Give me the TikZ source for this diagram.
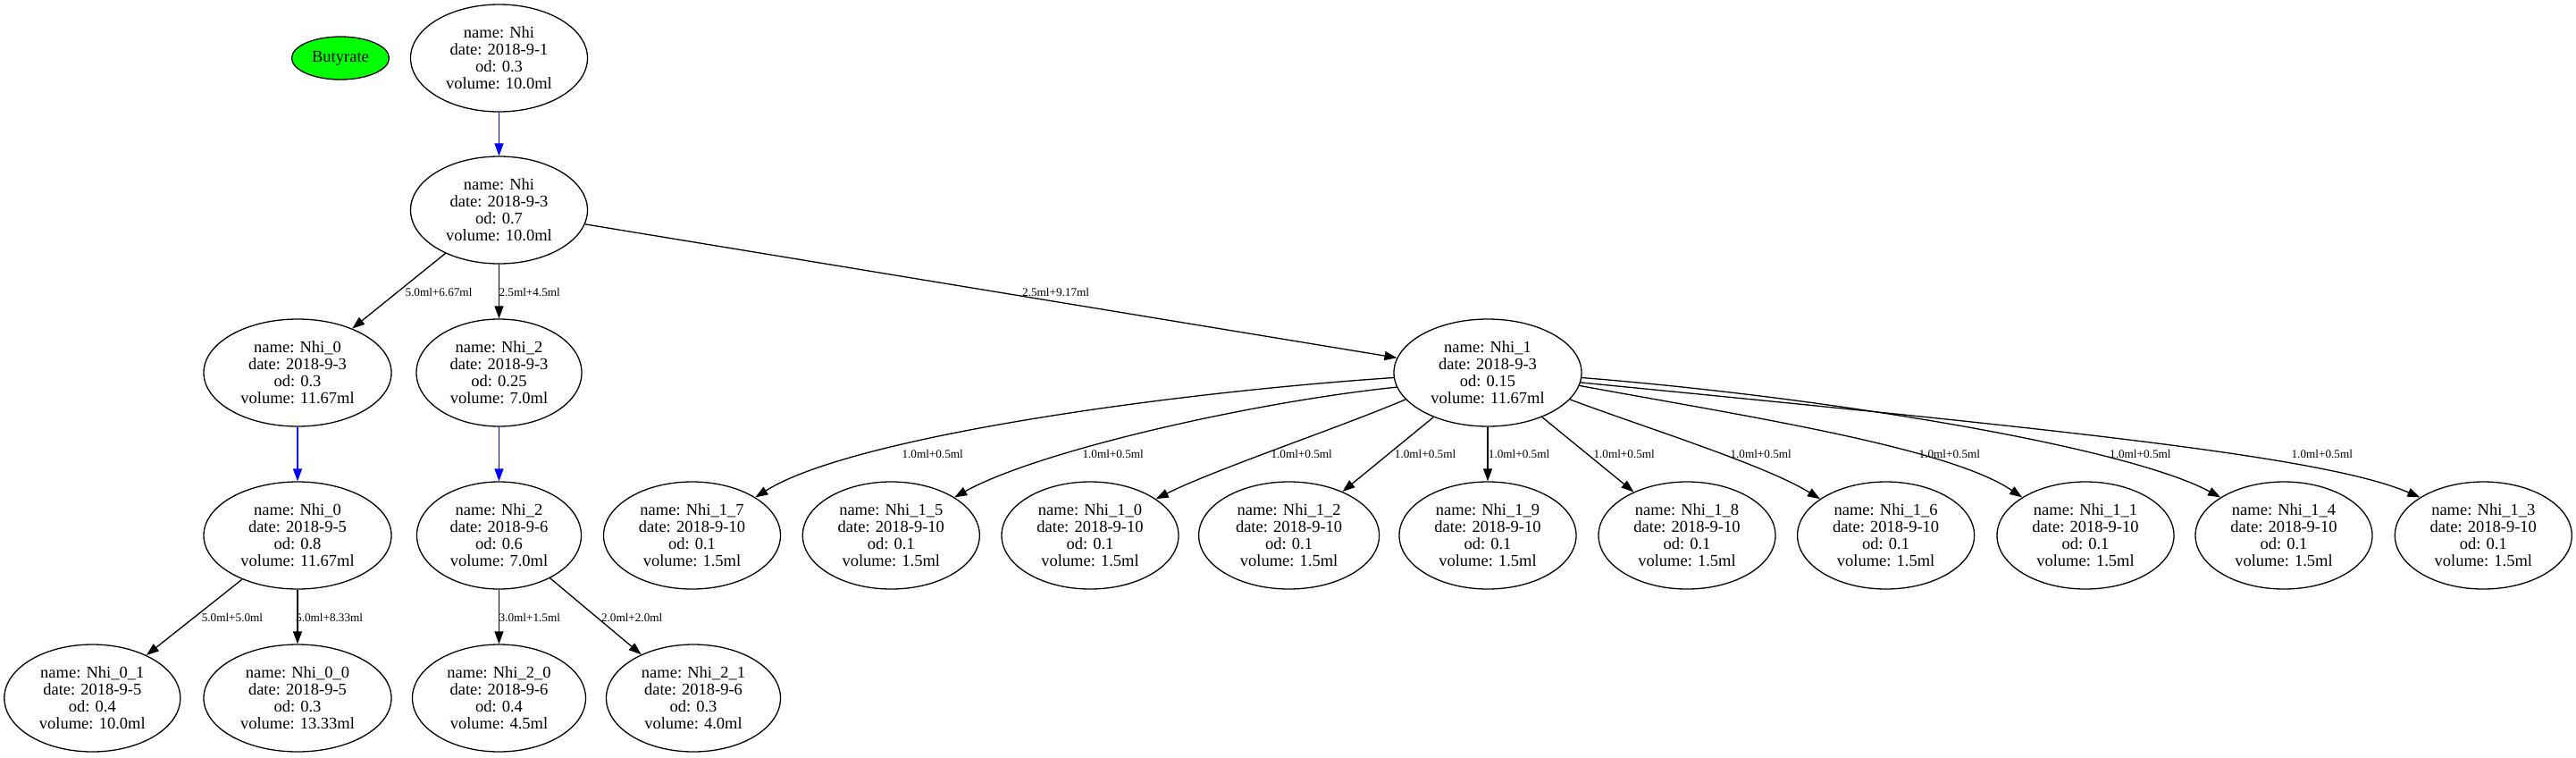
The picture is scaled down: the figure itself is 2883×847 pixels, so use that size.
\documentclass[tikz,border=0pt]{standalone}
\usepackage{fontspec}
\setmainfont{Liberation Serif}
\usetikzlibrary{shapes.geometric,arrows.meta}
\tikzset{
  nd/.style={ellipse, draw, line width=1.3pt, inner sep=0pt, minimum height=120pt, align=center,
    font=\fontsize{18.5}{18.9}\selectfont},
  lbl/.style={font=\fontsize{13.2}{14}\selectfont, anchor=west, inner sep=0pt},
  arr/.style={-{Triangle[length=14pt,width=10pt]}, line width=1.3pt},
  barr/.style={arr, draw=blue, fill=blue},
}
\begin{document}
\begin{tikzpicture}[x=1pt,y=-1pt]
\useasboundingbox (0,0) rectangle (2883,847);
% top
\node[ellipse, draw, line width=1.3pt, fill={rgb,255:red,0;green,255;blue,0}, inner sep=0pt,
  minimum width=109pt, minimum height=48pt, font=\fontsize{18.5}{18.9}\selectfont] (but) at (381,65) {Butyrate};
\node[nd, minimum width=198pt] (n0) at (558.5,65) {name: Nhi\\date: 2018-9-1\\od: 0.3\\volume: 10.0ml};
\node[nd, minimum width=198pt] (n1) at (558.5,235) {name: Nhi\\date: 2018-9-3\\od: 0.7\\volume: 10.0ml};
% level 3
\node[nd, minimum width=210pt] (a0) at (333,417) {name: Nhi\_0\\date: 2018-9-3\\od: 0.3\\volume: 11.67ml};
\node[nd, minimum width=185pt] (b0) at (558.5,417) {name: Nhi\_2\\date: 2018-9-3\\od: 0.25\\volume: 7.0ml};
\node[nd, minimum width=210pt] (c0) at (1665,417) {name: Nhi\_1\\date: 2018-9-3\\od: 0.15\\volume: 11.67ml};
% level 4
\node[nd, minimum width=210pt] (a1) at (333,599) {name: Nhi\_0\\date: 2018-9-5\\od: 0.8\\volume: 11.67ml};
\node[nd, minimum width=184pt] (b1) at (558.5,599) {name: Nhi\_2\\date: 2018-9-6\\od: 0.6\\volume: 7.0ml};
\node[nd, minimum width=198pt] (c7) at (774.5,599) {name: Nhi\_1\_7\\date: 2018-9-10\\od: 0.1\\volume: 1.5ml};
\node[nd, minimum width=198pt] (c5) at (997.3,599) {name: Nhi\_1\_5\\date: 2018-9-10\\od: 0.1\\volume: 1.5ml};
\node[nd, minimum width=198pt] (cz) at (1220,599) {name: Nhi\_1\_0\\date: 2018-9-10\\od: 0.1\\volume: 1.5ml};
\node[nd, minimum width=202pt] (c2) at (1442.6,599) {name: Nhi\_1\_2\\date: 2018-9-10\\od: 0.1\\volume: 1.5ml};
\node[nd, minimum width=198pt] (c9) at (1665,599) {name: Nhi\_1\_9\\date: 2018-9-10\\od: 0.1\\volume: 1.5ml};
\node[nd, minimum width=198pt] (c8) at (1888,599) {name: Nhi\_1\_8\\date: 2018-9-10\\od: 0.1\\volume: 1.5ml};
\node[nd, minimum width=198pt] (c6) at (2110.6,599) {name: Nhi\_1\_6\\date: 2018-9-10\\od: 0.1\\volume: 1.5ml};
\node[nd, minimum width=198pt] (c1) at (2334,599) {name: Nhi\_1\_1\\date: 2018-9-10\\od: 0.1\\volume: 1.5ml};
\node[nd, minimum width=198pt] (c4) at (2556,599) {name: Nhi\_1\_4\\date: 2018-9-10\\od: 0.1\\volume: 1.5ml};
\node[nd, minimum width=198pt] (c3) at (2779.3,599) {name: Nhi\_1\_3\\date: 2018-9-10\\od: 0.1\\volume: 1.5ml};
% level 5
\node[nd, minimum width=197pt] (a01) at (103.3,781) {name: Nhi\_0\_1\\date: 2018-9-5\\od: 0.4\\volume: 10.0ml};
\node[nd, minimum width=210pt] (a00) at (333,781) {name: Nhi\_0\_0\\date: 2018-9-5\\od: 0.3\\volume: 13.33ml};
\node[nd, minimum width=194pt] (b20) at (558.5,781) {name: Nhi\_2\_0\\date: 2018-9-6\\od: 0.4\\volume: 4.5ml};
\node[nd, minimum width=195pt] (b21) at (776,781) {name: Nhi\_2\_1\\date: 2018-9-6\\od: 0.3\\volume: 4.0ml};
% edges
\draw[barr] (n0) -- (n1);
\draw[arr] (n1) -- (a0);
\draw[arr] (n1) -- (b0);
\draw[arr] (n1) -- (c0);
\draw[barr] (a0) -- (a1);
\draw[barr] (b0) -- (b1);
\draw[arr] (a1) -- (a01);
\draw[arr] (a1) -- (a00);
\draw[arr] (b1) -- (b20);
\draw[arr] (b1) -- (b21);
\draw[arr] (c0.183) .. controls (1300,440) and (950,490) .. (c7.31);
\draw[arr] (c0.189) .. controls (1400,450) and (1160,505) .. (c5.31);
\draw[arr] (c0.198) .. controls (1500,478) and (1360,525) .. (cz.29);
\draw[arr] (c0) -- (c2);
\draw[arr] (c0) -- (c9);
\draw[arr] (c0) -- (c8);
\draw[arr] (c0.342) .. controls (1840,478) and (1975,520) .. (c6.151);
\draw[arr] (c0.352) .. controls (1950,465) and (2180,500) .. (c1.149);
\draw[arr] (c0.357) .. controls (2050,445) and (2380,500) .. (c4.149);
\draw[arr] (c0.354) .. controls (2300,480) and (2600,510) .. (c3.149);
% labels
\node[lbl] (l1) at (453.3,327.3) {5.0ml+6.67ml};
\node[lbl] (l2) at (558.3,327.3) {2.5ml+4.5ml};
\node[lbl] (l3) at (1144,327.3) {2.5ml+9.17ml};
\node[lbl] (l4) at (225.6,691) {5.0ml+5.0ml};
\node[lbl] (l5) at (331,691) {5.0ml+8.33ml};
\node[lbl] (l6) at (558.5,691) {3.0ml+1.5ml};
\node[lbl] (l7) at (672.8,691) {2.0ml+2.0ml};
\node[lbl] (m7) at (1009.3,508.3) {1.0ml+0.5ml};
\node[lbl] (m5) at (1211.3,508.3) {1.0ml+0.5ml};
\node[lbl] (mz) at (1422.3,508.3) {1.0ml+0.5ml};
\node[lbl] (m2) at (1560.7,508.3) {1.0ml+0.5ml};
\node[lbl] (m9) at (1665.7,508.3) {1.0ml+0.5ml};
\node[lbl] (m8) at (1783.3,508.3) {1.0ml+0.5ml};
\node[lbl] (m6) at (1936.3,508.3) {1.0ml+0.5ml};
\node[lbl] (m1) at (2147.5,508.3) {1.0ml+0.5ml};
\node[lbl] (m4) at (2361,508.3) {1.0ml+0.5ml};
\node[lbl] (m3) at (2564.4,508.3) {1.0ml+0.5ml};
\end{tikzpicture}
\end{document}
